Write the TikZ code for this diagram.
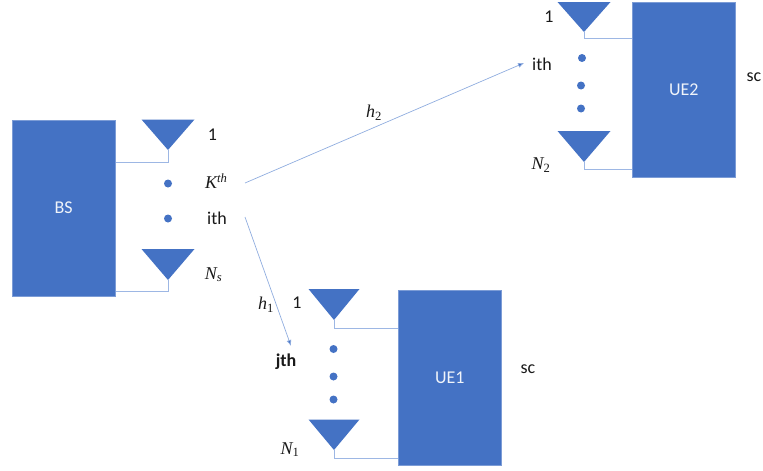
\documentclass[tikz,border=0pt]{standalone}
\usepackage{fontspec}
\usetikzlibrary{arrows.meta}
\setmainfont{Carlito}
\newfontfamily\symfont{Liberation Serif}
\definecolor{boxblue}{HTML}{4472C4}
\definecolor{wireblue}{HTML}{9DB7E4}
\newcommand{\subv}[2]{{\itshape #1}\textsubscript{#2}}
\begin{document}
\begin{tikzpicture}[x=1pt,y=-1pt,
  unitbox/.style={draw=boxblue!70!white,line width=0.4pt,fill=boxblue,text=white!92!boxblue,minimum width=103.5pt,minimum height=175.5pt,inner sep=0pt,font=\fontsize{18}{20}\selectfont},
  lab/.style={inner sep=0pt,text=black!90,font=\fontsize{18}{20}\selectfont},
  mlab/.style={inner sep=0pt,text=black!90,font=\fontsize{18}{20}\selectfont\symfont},
  wire/.style={draw=wireblue,line width=0.8pt},
  link/.style={draw=wireblue!85!boxblue,line width=0.7pt,-{Latex[length=6pt,width=5pt,fill=boxblue]}},
  ant/.style={fill=boxblue},
  dotmark/.style={circle,fill=boxblue,minimum size=8pt,inner sep=0pt}]
\useasboundingbox (0,0) rectangle (763,471);
% boxes
\node[unitbox] (bs) at (63.7,208) {BS};
\node[unitbox] (ue1) at (449.8,377.5) {UE1};
\node[unitbox] (ue2) at (683.8,89.5) {UE2};
% antenna apexes
\coordinate (bsa) at (168,150);
\coordinate (bsb) at (168,280);
\coordinate (uea) at (334,320);
\coordinate (ueb) at (334,450);
\coordinate (uec) at (584,32);
\coordinate (ued) at (584,162);
% wire corners
\coordinate (bsac) at (168,162);
\coordinate (bsbc) at (168,291);
\coordinate (ueac) at (334,328);
\coordinate (uebc) at (334,458);
\coordinate (uecc) at (584,38);
\coordinate (uedc) at (584,169);
% wires
\draw[wire] (bsa) -- (bsac) -- (bsac -| bs.east);
\draw[wire] (bsb) -- (bsbc) -- (bsbc -| bs.east);
\draw[wire] (uea) -- (ueac) -- (ueac -| ue1.west);
\draw[wire] (ueb) -- (uebc) -- (uebc -| ue1.west);
\draw[wire] (uec) -- (uecc) -- (uecc -| ue2.west);
\draw[wire] (ued) -- (uedc) -- (uedc -| ue2.west);
% antennas
\fill[ant] (bsa) -- ++(-26.5,-30.5) -- ++(53,0) -- cycle;
\fill[ant] (bsb) -- ++(-26.5,-31) -- ++(53,0) -- cycle;
\fill[ant] (uea) -- ++(-25.5,-31) -- ++(51,0) -- cycle;
\fill[ant] (ueb) -- ++(-25.5,-30.5) -- ++(51,0) -- cycle;
\fill[ant] (uec) -- ++(-26.5,-30) -- ++(53,0) -- cycle;
\fill[ant] (ued) -- ++(-26.5,-31) -- ++(53,0) -- cycle;
% dots
\node[dotmark] (d1) at (168,183.5) {};
\node[dotmark] (d2) at (168,218.5) {};
\node[dotmark] (d3) at (333.5,349) {};
\node[dotmark] (d4) at (333.5,376.5) {};
\node[dotmark] (d5) at (333.5,399.5) {};
\node[dotmark] (d6) at (582,58) {};
\node[dotmark] (d7) at (581,85.5) {};
\node[dotmark] (d8) at (581,108.5) {};
% labels
\node[lab] (n1) at (212.5,135) {1};
\node[mlab,anchor=west] (kth) at (205,181) {{\itshape K}\textsuperscript{\itshape th}};
\node[lab] (ith) at (217,218.5) {ith};
\node[mlab] (ns) at (213.5,274.5) {\subv{N}{\itshape s}};
\node[mlab] (h1) at (266,304.5) {\subv{h}{1}};
\node[lab] (n2) at (297,303) {1};
\node[lab,font=\fontsize{18}{20}\selectfont\bfseries] (jth) at (286,361.5) {jth};
\node[lab] (sc1) at (528,369) {sc};
\node[mlab] (nn1) at (290,449.5) {\subv{N}{1}};
\node[lab] (n3) at (549,17) {1};
\node[lab] (ith2) at (542,64.5) {ith};
\node[lab] (sc2) at (754,77) {sc};
\node[mlab] (nn2) at (541,165) {\subv{N}{2}};
\node[mlab] (h2) at (374,113) {\subv{h}{2}};
% links
\coordinate (s1) at (245,183);
\coordinate (s2) at (245,217);
\coordinate (e1) at (524,63);
\coordinate (e2) at (291,346);
\draw[link] (s1) -- (e1);
\draw[link] (s2) -- (e2);
\end{tikzpicture}
\end{document}
